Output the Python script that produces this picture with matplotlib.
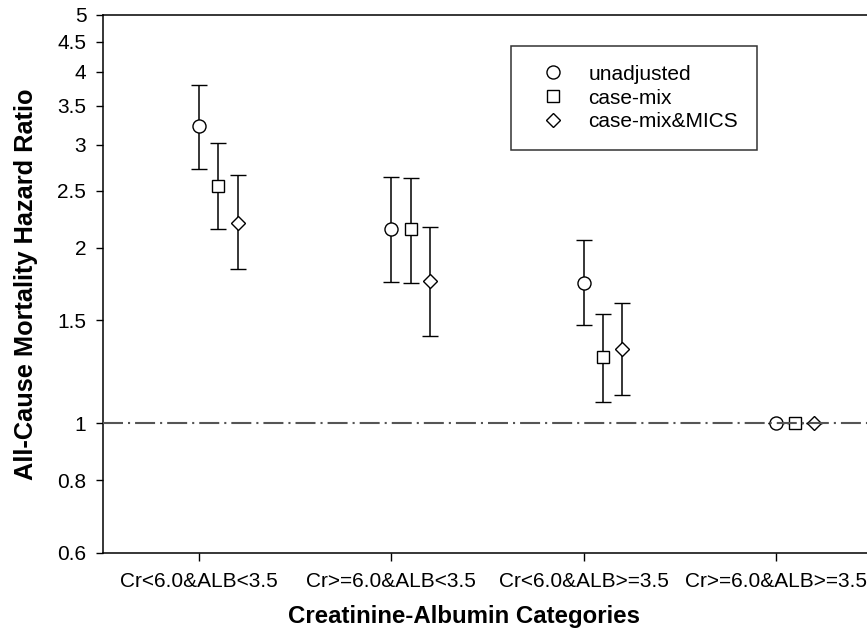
import matplotlib
matplotlib.use("Agg")
import matplotlib.pyplot as plt
import numpy as np

plt.rcParams['font.family'] = ['Liberation Sans', 'DejaVu Sans']

categories = ["Cr<6.0&ALB<3.5", "Cr>=6.0&ALB<3.5",
              "Cr<6.0&ALB>=3.5", "Cr>=6.0&ALB>=3.5"]
series = ["unadjusted", "case-mix", "case-mix&MICS"]

# hazard ratios and 95% CI, one row per series
hr = [[3.23, 2.15, 1.74, 1.0],
      [2.55, 2.15, 1.30, 1.0],
      [2.20, 1.75, 1.34, 1.0]]
ci_low = [[2.73, 1.745, 1.475, 1.0],
          [2.15, 1.74, 1.09, 1.0],
          [1.84, 1.41, 1.12, 1.0]]
ci_high = [[3.79, 2.64, 2.06, 1.0],
           [3.02, 2.63, 1.54, 1.0],
           [2.66, 2.17, 1.61, 1.0]]

yticks = [0.6, 0.8, 1, 1.5, 2, 2.5, 3, 3.5, 4, 4.5, 5]
ytick_labels = ["0.6", "0.8", "1", "1.5", "2", "2.5", "3", "3.5", "4", "4.5", "5"]

markers = ["o", "s", "D"]
msizes = [9.4, 8.4, 7.6]
offsets = [0.0, 0.1, 0.2]

fig = plt.figure(figsize=(8.67, 6.36), dpi=100)
ax = fig.add_axes([103 / 867, 83 / 636, 769 / 867, 538 / 636])

xpos = np.arange(1, len(categories) + 1)
handles = []
for i in range(len(series)):
    y = np.array(hr[i])
    lo = y - np.array(ci_low[i])
    hi = np.array(ci_high[i]) - y
    eb = ax.errorbar(xpos + offsets[i], y, yerr=[lo, hi], fmt=markers[i],
                     ms=msizes[i], mfc="white", mec="black", mew=1.0,
                     ecolor="black", elinewidth=1.1, capsize=5.6,
                     capthick=1.1, label=series[i], zorder=3)
    handles.append(eb[0])

ax.axhline(1.0, color="#555555", lw=1.5, zorder=4,
           dashes=(9.6, 2.4, 1.0, 2.4))

ax.set_yscale("log")
ax.set_ylim(0.6, 5)
ax.set_yticks(yticks)
ax.set_yticklabels(ytick_labels)
ax.yaxis.set_minor_locator(matplotlib.ticker.NullLocator())
ax.set_xlim(0.5, 4.5)
ax.set_xticks(xpos)
ax.set_xticklabels(categories)

ax.spines["right"].set_visible(False)
for s in ["left", "bottom", "top"]:
    ax.spines[s].set_linewidth(1.1)
ax.tick_params(axis="y", direction="out", length=5, width=1.0, labelsize=15, pad=7)
ax.tick_params(axis="x", direction="out", length=5.5, width=1.0, labelsize=15, pad=8)

ax.set_ylabel("All-Cause Mortality Hazard Ratio", fontsize=18.3, fontweight="bold")
ax.yaxis.set_label_coords(-0.084, 0.5)
ax.set_xlabel("Creatinine-Albumin Categories", fontsize=17.3, fontweight="bold")
ax.xaxis.set_label_coords(0.469, -0.097)

leg = ax.legend(handles=handles, labels=series, loc="upper left",
                bbox_to_anchor=((511 - 103) / 769, (553 - 46) / 538),
                frameon=True, fancybox=False, fontsize=15, numpoints=1,
                handlelength=2.25, handletextpad=0.56, labelspacing=0.23,
                borderpad=0.9, borderaxespad=0)
leg.get_frame().set_edgecolor("black")
leg.get_frame().set_linewidth(1.1)

fig.savefig("out.png", dpi=100)
